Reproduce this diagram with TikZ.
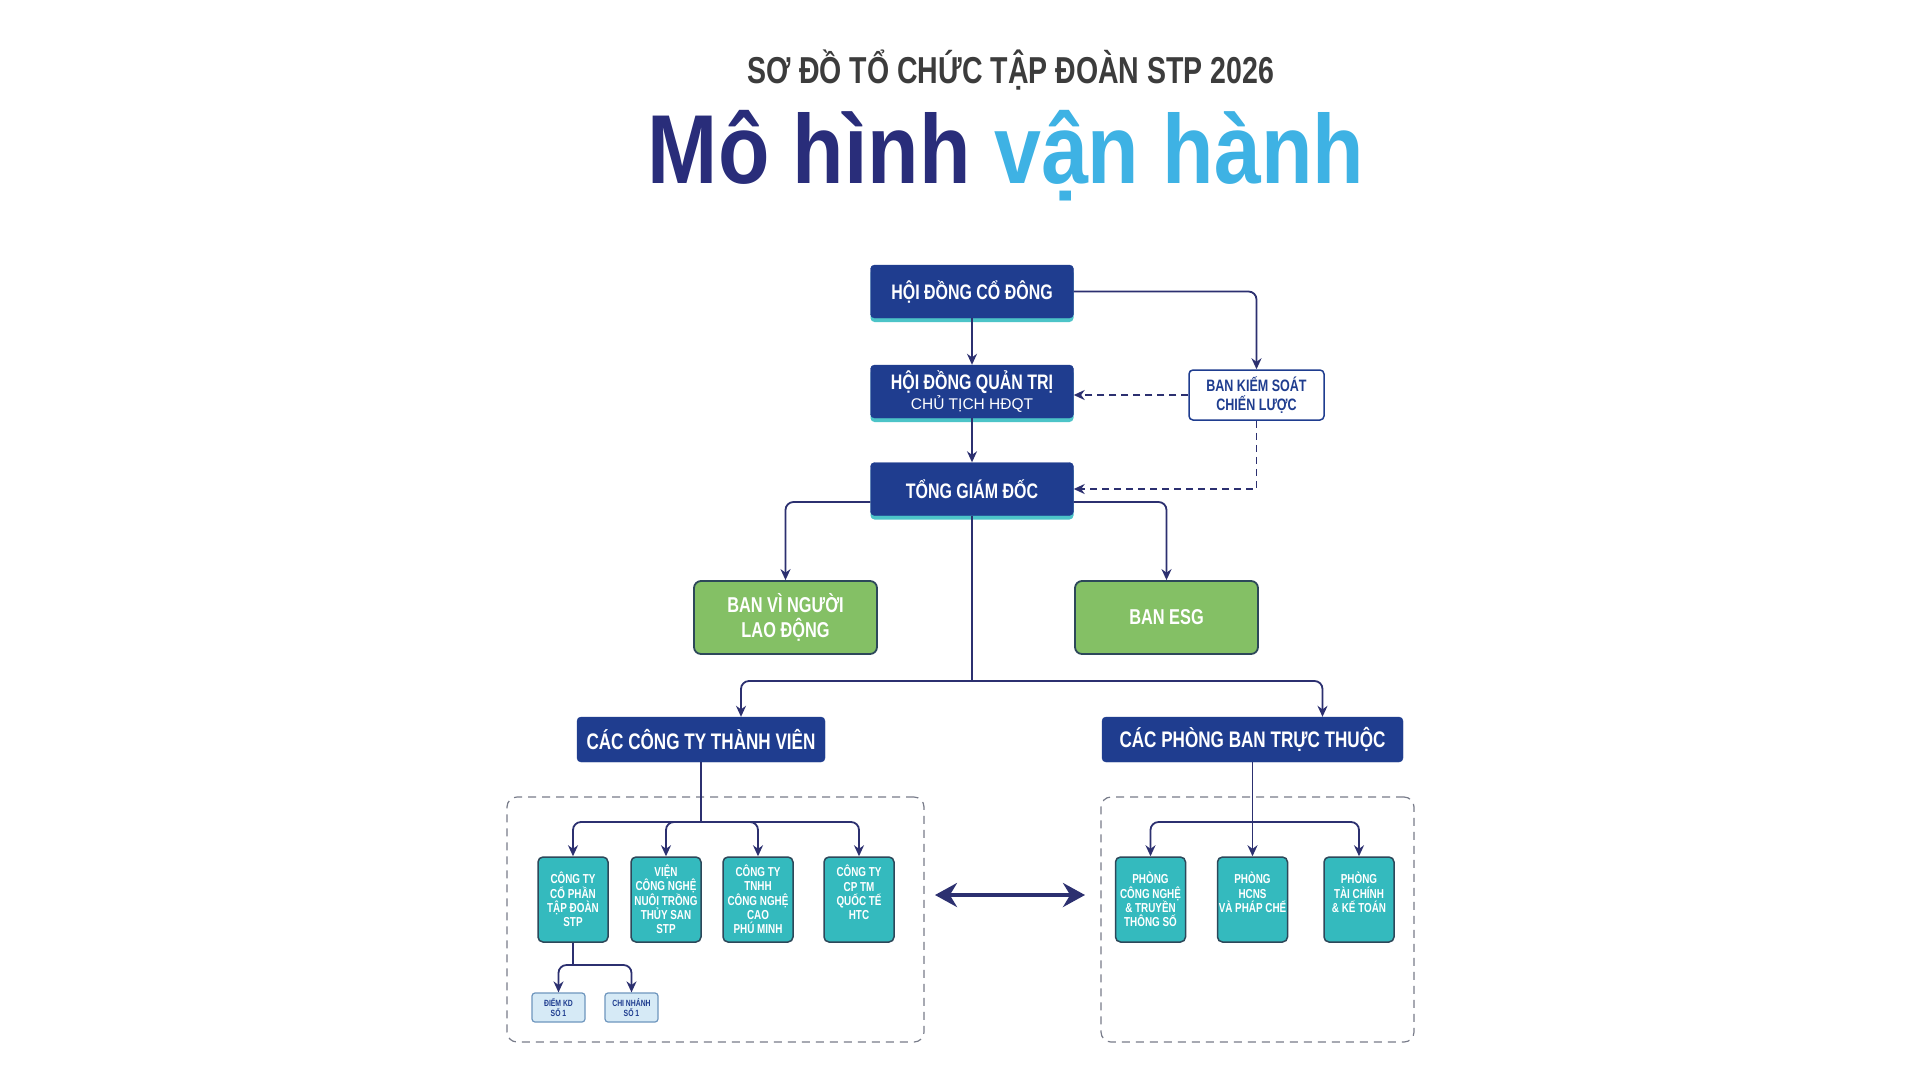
\documentclass[tikz,border=0pt]{standalone}
\usepackage{fontspec}
\setmainfont{Liberation Sans}
\newfontfamily\condfont[FakeStretch=0.76]{Liberation Sans}
\newfontfamily\titlefont[FakeStretch=0.86]{Liberation Sans}
\usetikzlibrary{arrows.meta,shadows,calc}
\definecolor{stp_navy}{RGB}{31, 61, 143}
\definecolor{stp_deep}{RGB}{41, 45, 122}
\definecolor{stp_sky}{RGB}{62, 178, 228}
\definecolor{stp_ink}{RGB}{60, 60, 60}
\definecolor{stp_teal}{RGB}{52, 186, 190}
\definecolor{stp_tealline}{RGB}{76, 196, 200}
\definecolor{stp_green}{RGB}{132, 192, 101}
\definecolor{stp_slate}{RGB}{45, 72, 90}
\definecolor{stp_line}{RGB}{44, 48, 112}
\definecolor{stp_pale}{RGB}{214, 234, 246}
\definecolor{stp_steel}{RGB}{110, 150, 190}
\definecolor{stp_gray}{RGB}{120, 124, 138}
\tikzstyle{head}=[rectangle,rounded corners=4pt,fill=stp_navy,draw=stp_navy,text=white,
  font={\condfont\bfseries\fontsize{21}{23}\selectfont},align=center,inner sep=2pt,
  minimum width=203pt,minimum height=53pt,
  drop shadow={shadow xshift=0pt,shadow yshift=-4pt,fill=stp_tealline,opacity=1}]
\tikzstyle{unit}=[rectangle,rounded corners=4pt,fill=stp_navy,draw=stp_navy,text=white,
  font={\condfont\bfseries\fontsize{22.5}{25}\selectfont},align=center,inner sep=2pt,
  minimum height=45pt]
\tikzstyle{ctrl}=[rectangle,rounded corners=4pt,fill=white,draw=stp_navy,line width=1.5pt,
  text=stp_navy,font={\condfont\bfseries\fontsize{16.5}{18.5}\selectfont},align=center,
  minimum width=135pt,minimum height=50pt]
\tikzstyle{grn}=[rectangle,rounded corners=7pt,fill=stp_green,draw=stp_slate,line width=1.8pt,
  text=white,font={\condfont\bfseries\fontsize{21.5}{24.5}\selectfont},align=center,
  minimum width=183pt,minimum height=73pt]
\tikzstyle{tbox}=[rectangle,rounded corners=5pt,fill=stp_teal,draw=stp_slate,line width=1.5pt,
  text=white,font={\condfont\bfseries\fontsize{13}{14.3}\selectfont},align=center,
  inner sep=1pt,minimum width=70pt,minimum height=85pt]
\tikzstyle{sbox}=[rectangle,rounded corners=3pt,fill=stp_pale,draw=stp_steel,line width=1.2pt,
  text=stp_navy,font={\condfont\bfseries\fontsize{9}{10.5}\selectfont},align=center,
  inner sep=1pt,minimum width=53pt,minimum height=29pt]
\tikzstyle{group}=[rectangle,rounded corners=10pt,draw=stp_gray,line width=1.2pt,
  dash pattern=on 8pt off 6pt]
\tikzstyle{wire}=[draw=stp_line,line width=1.8pt,rounded corners=8pt]
\tikzstyle{link}=[draw=stp_line,line width=1.8pt,rounded corners=8pt,
  -{Stealth[length=11pt,width=10pt]}]
\tikzstyle{dlink}=[draw=stp_line,line width=1.8pt,dash pattern=on 7pt off 5pt,
  -{Stealth[length=11pt,width=10pt]}]
\tikzstyle{twoway}=[draw=stp_line,line width=3.5pt,
  {Stealth[length=22pt,width=24pt]}-{Stealth[length=22pt,width=24pt]}]

\begin{document}
\begin{tikzpicture}[x=1pt,y=-1pt]
    \fill [white] (0,0) rectangle (1920,1080);
    \useasboundingbox (0,0) rectangle (1920,1080);
    \node [anchor=base,text=stp_ink,font={\condfont\bfseries\fontsize{37.5}{40}\selectfont}] (sub) at (1011,83) {SƠ ĐỒ TỔ CHỨC TẬP ĐOÀN STP 2026};
    \node [anchor=base,font={\titlefont\bfseries\fontsize{98}{100}\selectfont}] (title) at (1006,183) {\textcolor{stp_deep}{Mô hình} \textcolor{stp_sky}{vận hành}};
    \node [style=group,minimum width=417pt,minimum height=245pt] (gl) at (715.5,919.5) {};
    \node [style=group,minimum width=313pt,minimum height=245pt] (gr) at (1257.5,919.5) {};
    \node [style=head] (hdcd) at (972,291.5) {HỘI ĐỒNG CỔ ĐÔNG};
    \node [style=head] (hdqt) at (972,391.5) {HỘI ĐỒNG QUẢN TRỊ\\[-3pt]{\normalfont\fontsize{15.5}{17}\selectfont CHỦ TỊCH HĐQT}};
    \node [style=head] (tgd) at (972,489) {TỔNG GIÁM ĐỐC};
    \node [style=ctrl] (bks) at (1256.5,395) {BAN KIẾM SOÁT\\CHIẾN LƯỢC};
    \node [style=grn] (lao) at (785.5,617.5) {BAN VÌ NGƯỜI\\LAO ĐỘNG};
    \node [style=grn] (esg) at (1166.5,617.5) {BAN ESG};
    \node [style=unit,minimum width=248pt] (cty) at (701,739.5) {CÁC CÔNG TY THÀNH VIÊN};
    \node [style=unit,minimum width=301pt] (pb) at (1252.5,739.5) {CÁC PHÒNG BAN TRỰC THUỘC};
    \node [style=tbox] (c1) at (573,899.5) {CÔNG TY\\CỔ PHẦN\\TẬP ĐOÀN\\STP};
    \node [style=tbox] (c2) at (666,899.5) {VIỆN\\CÔNG NGHỆ\\NUÔI TRỒNG\\THỦY SAN\\STP};
    \node [style=tbox] (c3) at (758,899.5) {CÔNG TY\\TNHH\\CÔNG NGHỆ\\CAO\\PHÚ MINH};
    \node [style=tbox] (c4) at (859,899.5) {CÔNG TY\\CP TM\\QUỐC TẾ\\HTC\\\mbox{}};
    \node [style=tbox] (r1) at (1150.5,899.5) {PHÒNG\\CÔNG NGHỆ\\\& TRUYỀN\\THÔNG SỐ};
    \node [style=tbox] (r2) at (1252.5,899.5) {PHÒNG\\HCNS\\VÀ PHÁP CHẾ\\\mbox{}};
    \node [style=tbox] (r3) at (1359,899.5) {PHÒNG\\TÀI CHÍNH\\\& KẾ TOÁN\\\mbox{}};
    \node [style=sbox] (s1) at (558.5,1007.5) {ĐIỂM KD\\SỐ 1};
    \node [style=sbox] (s2) at (631.5,1007.5) {CHI NHÁNH\\SỐ 1};
    \coordinate (split) at (972,681);
    \coordinate (lsplit) at (701,822);
    \coordinate (rsplit) at (1252.5,822);
    \coordinate (ssplit) at (573,965);
    \coordinate (swl) at (935,895);
    \coordinate (swr) at (1085,895);
    \draw [style=link] (hdcd) to (hdqt);
    \draw [style=link] (hdqt) to (tgd);
    \draw [style=link] (hdcd.east) -| (bks.north);
    \draw [style=dlink] (bks.west) to (bks.west -| hdqt.east);
    \draw [style=dlink] (bks.south) |- (tgd.east);
    \draw [style=link] ($(tgd.west)+(0,13)$) -| (lao.north);
    \draw [style=link] ($(tgd.east)+(0,13)$) -| (esg.north);
    \draw [style=wire] (tgd.south) to (split);
    \draw [style=link] (split) -| ($(cty.north)+(40,0)$);
    \draw [style=link] (split) -| ($(pb.north)+(70,0)$);
    \draw [style=wire] (cty.south) to (lsplit);
    \draw [style=link] (lsplit) -| (c1.north);
    \draw [style=link] (lsplit) -| (c2.north);
    \draw [style=link] (lsplit) -| (c3.north);
    \draw [style=link] (lsplit) -| (c4.north);
    \draw [style=link] (pb.south) to (r2.north);
    \draw [style=link] (rsplit) -| (r1.north);
    \draw [style=link] (rsplit) -| (r3.north);
    \draw [style=wire] (c1.south) to (ssplit);
    \draw [style=link] (ssplit) -| (s1.north);
    \draw [style=link] (ssplit) -| (s2.north);
    \draw [style=twoway] (swl) to (swr);
\end{tikzpicture}
\end{document}
